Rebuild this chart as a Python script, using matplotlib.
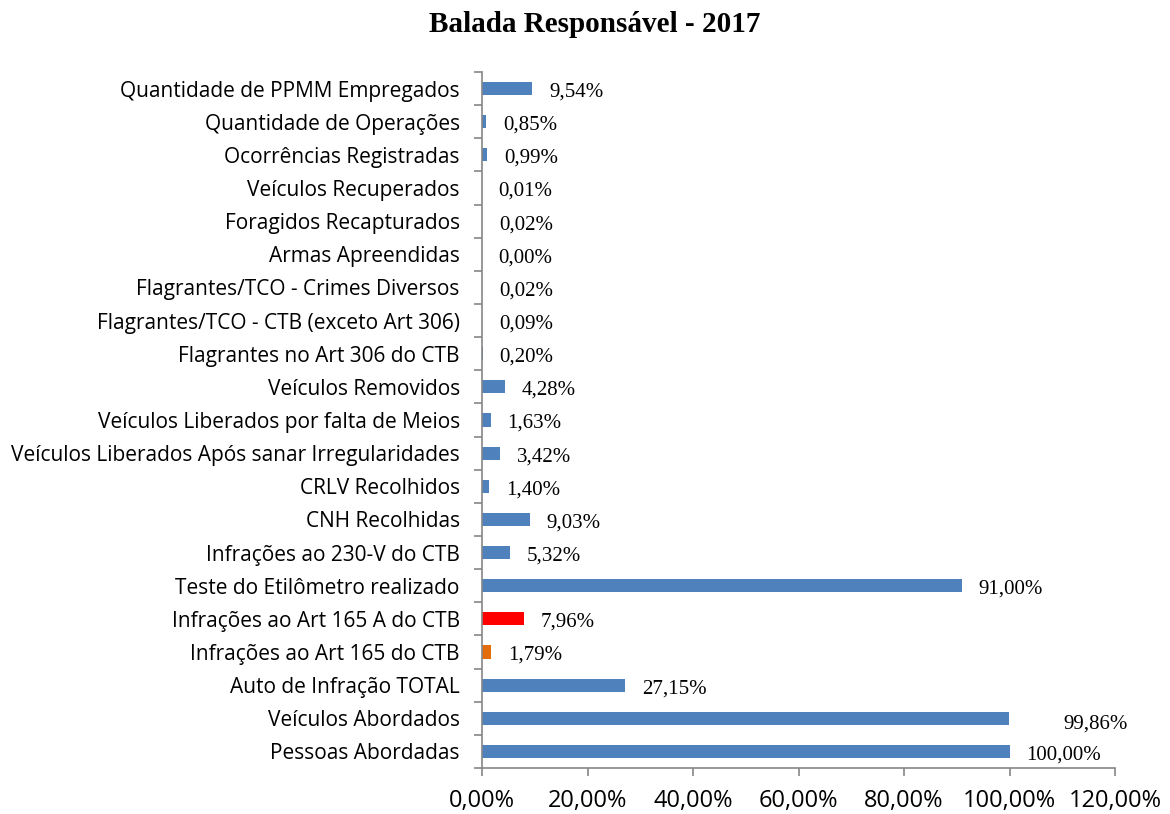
import matplotlib
matplotlib.use("Agg")
import matplotlib.pyplot as plt
from matplotlib.ticker import FuncFormatter, MultipleLocator, FixedLocator
import numpy as np

categories = [
    "Quantidade de PPMM Empregados",
    "Quantidade de Operações",
    "Ocorrências Registradas",
    "Veículos Recuperados",
    "Foragidos Recapturados",
    "Armas Apreendidas",
    "Flagrantes/TCO - Crimes Diversos",
    "Flagrantes/TCO - CTB (exceto Art 306)",
    "Flagrantes no Art 306 do CTB",
    "Veículos Removidos",
    "Veículos Liberados por falta de Meios",
    "Veículos Liberados Após sanar Irregularidades",
    "CRLV Recolhidos",
    "CNH Recolhidas",
    "Infrações ao 230-V do CTB",
    "Teste do Etilômetro realizado",
    "Infrações ao Art 165 A do CTB",
    "Infrações ao Art 165 do CTB",
    "Auto de Infração TOTAL",
    "Veículos Abordados",
    "Pessoas Abordadas",
]
values = [9.54, 0.85, 0.99, 0.01, 0.02, 0.00, 0.02, 0.09, 0.20, 4.28,
          1.63, 3.42, 1.40, 9.03, 5.32, 91.00, 7.96, 1.79, 27.15, 99.86, 100.00]
BLUE = "#4F81BD"
colors = [BLUE] * len(values)
colors[categories.index("Infrações ao Art 165 A do CTB")] = "#FF0000"
colors[categories.index("Infrações ao Art 165 do CTB")] = "#E46C0A"
title = "Balada Responsável - 2017"

fig = plt.figure(figsize=(11.7, 8.14), dpi=100)
ax = fig.add_axes([482/1170, 1-768/814, (1115-482)/1170, (768-72)/814])

n = len(categories)
ypos = np.arange(n)[::-1]
ax.barh(ypos, values, height=0.4, color=colors, zorder=2)
ax.set_xlim(0, 120)
ax.set_ylim(-0.5, n - 0.5)

ax.set_yticks(ypos)
ax.set_yticklabels(categories, fontfamily="Open Sans", fontsize=15)
ax.yaxis.set_minor_locator(FixedLocator(np.arange(-0.5, n, 1.0)))
ax.tick_params(axis="y", which="major", length=0, pad=16)
ax.tick_params(axis="y", which="minor", length=6, color="#868686", width=1.2)

ax.xaxis.set_major_locator(MultipleLocator(20))
ax.xaxis.set_major_formatter(FuncFormatter(lambda v, p: f"{v:.2f}%".replace(".", ",")))
ax.tick_params(axis="x", length=6, color="#868686", width=1.2, pad=9, labelsize=17)
for lab in ax.get_xticklabels():
    lab.set_fontfamily("Open Sans")

for s in ["top", "right"]:
    ax.spines[s].set_visible(False)
for s in ["left", "bottom"]:
    ax.spines[s].set_color("#868686")
    ax.spines[s].set_linewidth(1.2)

for y, v, c in zip(ypos, values, categories):
    txt = f"{v:.2f}%".replace(".", ",")
    dx, dy = 12, -2.5
    if c == "Veículos Abordados":
        dx, dy = 39, -4
    ax.annotate(txt, (v, y), xytext=(dx, dy), textcoords="offset points",
                ha="left", va="center", fontfamily="Liberation Serif", fontsize=15)

fig.text(595/1170, 1-25/814, title, ha="center", va="center",
         fontfamily="Liberation Serif", fontweight="bold", fontsize=21)

fig.savefig("out.png", dpi=100)
